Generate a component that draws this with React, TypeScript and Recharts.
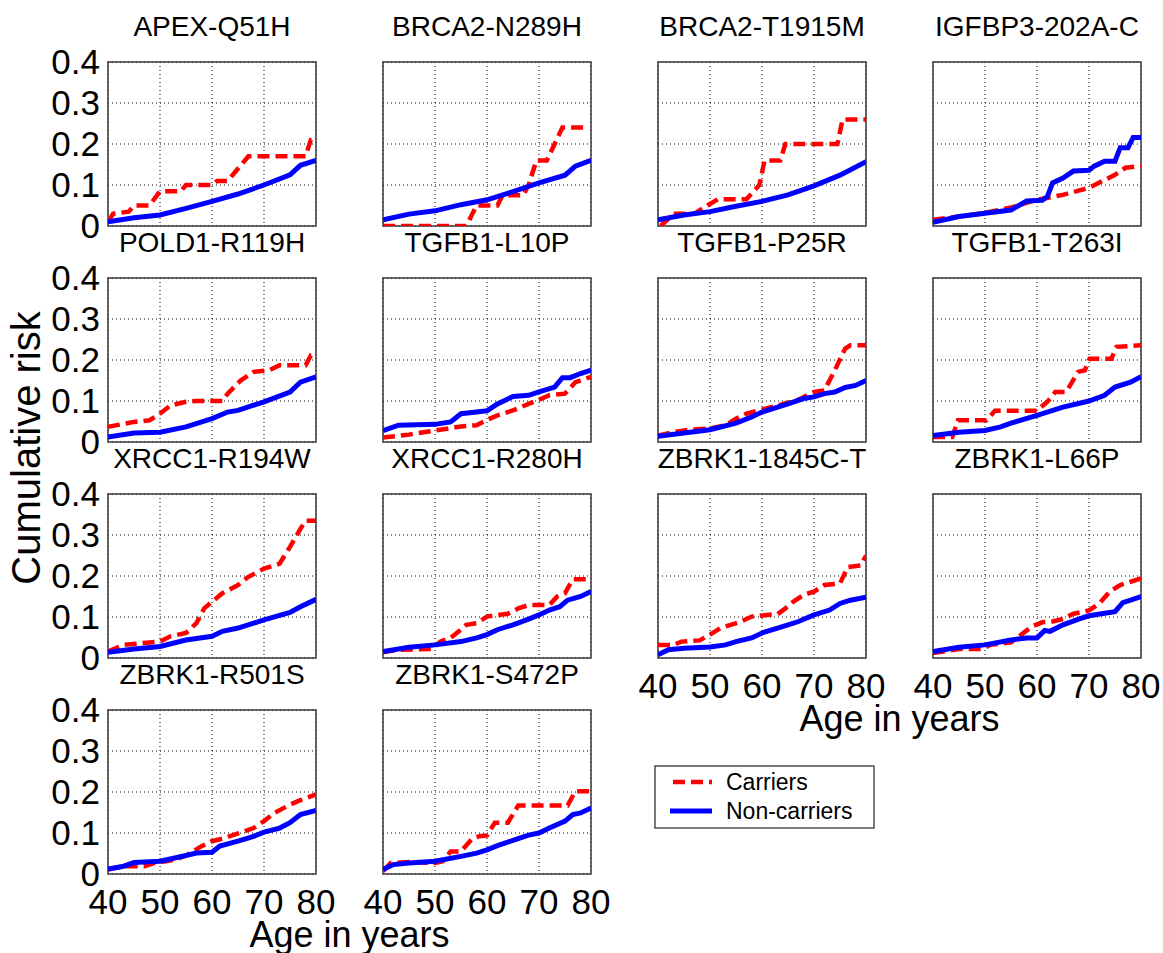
import { LineChart, Line, XAxis, YAxis, CartesianGrid, ReferenceArea } from 'recharts'

type Pt = [number, number]

const ageTicks = [40, 50, 60, 70, 80]
const riskTicks = [0, 0.1, 0.2, 0.3, 0.4]

const titles = [
  'APEX-Q51H', 'BRCA2-N289H', 'BRCA2-T1915M', 'IGFBP3-202A-C',
  'POLD1-R119H', 'TGFB1-L10P', 'TGFB1-P25R', 'TGFB1-T263I',
  'XRCC1-R194W', 'XRCC1-R280H', 'ZBRK1-1845C-T', 'ZBRK1-L66P',
  'ZBRK1-R501S', 'ZBRK1-S472P',
]

// [age, cumulative risk]
const apexCarriers: Pt[] = [[40, 0.01], [41, 0.03], [44, 0.035], [45, 0.05], [48, 0.05], [50, 0.085], [54, 0.085], [55, 0.1], [60, 0.1], [61, 0.11], [63, 0.11], [67, 0.17], [78, 0.17], [79, 0.21], [80, 0.21]]
const apexNon: Pt[] = [[40, 0.01], [45, 0.02], [50, 0.027], [55, 0.043], [60, 0.06], [65, 0.078], [70, 0.1], [75, 0.125], [77, 0.148], [80, 0.16]]

const brcaN289hCarriers: Pt[] = [[40, 0], [56, 0], [58, 0.05], [62, 0.05], [63, 0.075], [67, 0.075], [68, 0.1], [69.5, 0.16], [71.5, 0.16], [74.5, 0.24], [79.2, 0.24]]
const brcaN289hNon: Pt[] = [[40, 0.015], [45, 0.029], [50, 0.037], [55, 0.052], [60, 0.064], [65, 0.084], [70, 0.105], [75, 0.124], [77, 0.146], [80, 0.16]]

const brcaT1915mCarriers: Pt[] = [[40.5, 0], [43, 0.03], [47, 0.03], [49.5, 0.05], [51.5, 0.065], [57, 0.065], [59.5, 0.1], [60.5, 0.16], [63.5, 0.16], [64.5, 0.2], [74.5, 0.2], [75.5, 0.26], [80, 0.26]]
const brcaT1915mNon: Pt[] = [[40, 0.015], [45, 0.027], [50, 0.035], [55, 0.048], [60, 0.06], [65, 0.076], [70, 0.098], [75, 0.124], [80, 0.157]]

const igfbp3Carriers: Pt[] = [[40, 0.015], [45, 0.023], [50, 0.032], [55, 0.045], [60, 0.064], [65, 0.076], [70, 0.093], [75, 0.125], [77, 0.142], [80, 0.146]]
const igfbp3Non: Pt[] = [[40, 0.009], [45, 0.023], [50, 0.031], [55, 0.039], [58, 0.061], [61, 0.063], [62, 0.072], [63, 0.105], [65, 0.117], [67, 0.134], [70, 0.136], [71, 0.146], [73, 0.158], [75, 0.158], [76, 0.191], [77.5, 0.191], [78.5, 0.216], [80, 0.216]]

const pold1Carriers: Pt[] = [[40, 0.037], [45, 0.049], [48, 0.053], [50, 0.069], [52, 0.089], [55, 0.098], [57, 0.1], [62, 0.1], [63, 0.118], [65.5, 0.15], [68, 0.171], [71, 0.175], [73, 0.187], [78, 0.187], [79, 0.211], [80, 0.211]]
const pold1Non: Pt[] = [[40, 0.012], [45, 0.022], [50, 0.024], [55, 0.037], [60, 0.057], [63, 0.073], [65, 0.077], [70, 0.098], [75, 0.122], [77, 0.146], [80, 0.159]]

const tgfbL10pCarriers: Pt[] = [[40, 0.011], [45, 0.018], [50, 0.028], [55, 0.038], [58, 0.041], [60, 0.054], [62, 0.065], [65, 0.077], [68, 0.093], [70, 0.103], [72, 0.114], [75, 0.118], [77, 0.146], [80, 0.159]]
const tgfbL10pNon: Pt[] = [[40, 0.028], [43, 0.041], [50, 0.043], [53, 0.049], [55, 0.069], [58, 0.073], [60, 0.076], [62, 0.093], [65, 0.111], [68, 0.114], [70, 0.122], [73, 0.134], [74.5, 0.157], [76, 0.157], [78, 0.167], [80, 0.175]]

const tgfbP25rCarriers: Pt[] = [[40, 0.016], [43, 0.024], [46, 0.03], [50, 0.033], [53, 0.041], [55, 0.057], [57, 0.069], [60, 0.079], [63, 0.089], [67, 0.103], [70, 0.122], [72, 0.126], [74, 0.175], [76, 0.228], [77, 0.236], [80, 0.236]]
const tgfbP25rNon: Pt[] = [[40, 0.014], [45, 0.022], [50, 0.03], [55, 0.046], [58, 0.061], [60, 0.073], [65, 0.093], [68, 0.106], [70, 0.11], [72, 0.118], [74, 0.122], [76, 0.133], [78, 0.138], [80, 0.15]]

const tgfbT263iCarriers: Pt[] = [[40, 0.012], [43.7, 0.012], [44.8, 0.053], [50.3, 0.053], [51.9, 0.076], [60, 0.076], [62.2, 0.101], [63.5, 0.122], [65.6, 0.122], [67.9, 0.171], [69.2, 0.175], [70.1, 0.203], [74.3, 0.203], [75.3, 0.232], [80, 0.236]]
const tgfbT263iNon: Pt[] = [[40, 0.016], [45, 0.024], [50, 0.028], [53, 0.037], [55, 0.046], [60, 0.065], [65, 0.085], [70, 0.1], [73, 0.114], [75, 0.134], [78, 0.146], [80, 0.159]]

const xrccR194wCarriers: Pt[] = [[40, 0.016], [43, 0.032], [48, 0.038], [50, 0.04], [52, 0.053], [55, 0.061], [57, 0.085], [58.5, 0.121], [60, 0.137], [62, 0.158], [65, 0.178], [67, 0.198], [70, 0.218], [73, 0.23], [75, 0.271], [77, 0.315], [78, 0.335], [80, 0.335]]
const xrccR194wNon: Pt[] = [[40, 0.014], [45, 0.022], [50, 0.028], [55, 0.044], [60, 0.053], [62, 0.065], [65, 0.073], [70, 0.093], [75, 0.111], [77, 0.125], [80, 0.143]]

const xrccR280hCarriers: Pt[] = [[40, 0.014], [43, 0.02], [49.5, 0.022], [51, 0.04], [53, 0.049], [55, 0.069], [56, 0.081], [58, 0.085], [60, 0.101], [64, 0.108], [66, 0.121], [68, 0.129], [72, 0.129], [73.5, 0.15], [75, 0.158], [76.5, 0.192], [80, 0.192]]
const xrccR280hNon: Pt[] = [[40, 0.016], [45, 0.026], [50, 0.032], [55, 0.04], [58, 0.049], [60, 0.057], [62, 0.069], [65, 0.081], [68, 0.095], [70, 0.105], [72, 0.117], [74, 0.125], [75.5, 0.141], [78, 0.15], [80, 0.162]]

const zbrk1845Carriers: Pt[] = [[40, 0.032], [43, 0.032], [44.5, 0.04], [48, 0.043], [50, 0.057], [52, 0.073], [54, 0.081], [56, 0.089], [58, 0.101], [61, 0.105], [63, 0.107], [64.5, 0.121], [66, 0.137], [68, 0.154], [70, 0.162], [72, 0.178], [75, 0.182], [76.5, 0.222], [79, 0.226], [80, 0.25]]
const zbrk1845Non: Pt[] = [[40, 0.008], [42, 0.02], [45, 0.024], [50, 0.027], [53, 0.032], [55, 0.04], [58, 0.049], [60, 0.061], [63, 0.073], [65, 0.081], [67, 0.089], [70, 0.105], [73, 0.117], [75, 0.133], [77, 0.141], [80, 0.148]]

const zbrkL66pCarriers: Pt[] = [[40, 0.012], [45, 0.022], [49.5, 0.022], [51, 0.032], [55, 0.038], [57, 0.057], [59, 0.077], [61, 0.087], [63, 0.089], [65, 0.095], [67, 0.108], [70, 0.116], [72, 0.133], [74, 0.162], [76, 0.178], [78, 0.186], [80, 0.194]]
const zbrkL66pNon: Pt[] = [[40, 0.016], [45, 0.026], [50, 0.032], [55, 0.044], [58, 0.049], [60, 0.049], [61.5, 0.067], [62.5, 0.065], [65, 0.081], [68, 0.095], [70, 0.103], [73, 0.109], [75, 0.113], [76.5, 0.135], [78, 0.141], [80, 0.15]]

const zbrkR501sCarriers: Pt[] = [[40, 0.011], [43, 0.019], [47, 0.019], [49, 0.027], [53, 0.035], [55, 0.045], [58, 0.068], [60, 0.08], [62, 0.086], [65, 0.099], [68, 0.112], [70, 0.129], [72, 0.149], [75, 0.169], [77, 0.18], [80, 0.194]]
const zbrkR501sNon: Pt[] = [[40, 0.012], [43, 0.019], [45, 0.028], [50, 0.031], [55, 0.045], [57, 0.051], [60, 0.053], [61.5, 0.068], [65, 0.08], [68, 0.092], [70, 0.102], [73, 0.112], [75, 0.125], [77, 0.145], [80, 0.155]]

const zbrkS472pCarriers: Pt[] = [[40, 0.007], [41.5, 0.027], [45, 0.029], [50, 0.027], [51.5, 0.031], [53, 0.055], [55, 0.055], [57, 0.084], [58.5, 0.092], [60, 0.094], [61.5, 0.125], [64, 0.125], [66, 0.167], [75.5, 0.167], [77, 0.202], [80, 0.202]]
const zbrkS472pNon: Pt[] = [[40, 0.011], [42, 0.023], [45, 0.027], [50, 0.031], [55, 0.043], [58, 0.051], [60, 0.059], [62, 0.069], [65, 0.082], [68, 0.095], [70, 0.1], [72, 0.112], [75, 0.129], [76.5, 0.145], [78, 0.149], [80, 0.161]]

const carriersSets = [
  apexCarriers, brcaN289hCarriers, brcaT1915mCarriers, igfbp3Carriers,
  pold1Carriers, tgfbL10pCarriers, tgfbP25rCarriers, tgfbT263iCarriers,
  xrccR194wCarriers, xrccR280hCarriers, zbrk1845Carriers, zbrkL66pCarriers,
  zbrkR501sCarriers, zbrkS472pCarriers,
]
const nonCarriersSets = [
  apexNon, brcaN289hNon, brcaT1915mNon, igfbp3Non,
  pold1Non, tgfbL10pNon, tgfbP25rNon, tgfbT263iNon,
  xrccR194wNon, xrccR280hNon, zbrk1845Non, zbrkL66pNon,
  zbrkR501sNon, zbrkS472pNon,
]

const FONT = '"Liberation Sans", Arial, Helvetica, sans-serif'
const RED = '#ff0000'
const BLUE = '#0000ff'
const DASH = '12 6'

// plot-box geometry in page pixels
const colLeft = [108, 383, 658, 933]
const rowTop = [62, 278, 494, 710]
const PW = 208
const PH = 164
const YW = 100
const XH = 70
const TOP = 30
const RIGHT = 30

const toRows = (pts: Pt[]) => pts.map(([age, risk]) => ({ age, risk }))

// keeps the tick (and so the grid line) but draws no label
const NoLabel = () => <g />

function Panel({ idx }: { idx: number }) {
  const row = Math.floor(idx / 4)
  const col = idx % 4
  const showY = col === 0
  const showX = row === 3 || (row === 2 && col >= 2)
  const tickStyle = { fill: '#000', fontSize: 35, fontFamily: FONT }

  return (
    <div style={{ position: 'absolute', left: colLeft[col] - YW, top: rowTop[row] - TOP }}>
      <LineChart
        width={YW + PW + RIGHT}
        height={TOP + PH + XH}
        margin={{ top: TOP, right: RIGHT, bottom: 0, left: 0 }}
      >
        <CartesianGrid stroke="#000" strokeWidth={1} strokeDasharray="1 3" />
        <XAxis
          type="number"
          dataKey="age"
          domain={[40, 80]}
          ticks={ageTicks}
          allowDataOverflow
          height={XH}
          axisLine={false}
          tickLine={false}
          tickMargin={9}
          interval={0}
          tick={showX ? tickStyle : NoLabel}
        />
        <YAxis
          type="number"
          domain={[0, 0.4]}
          ticks={riskTicks}
          allowDataOverflow
          width={YW}
          axisLine={false}
          tickLine={false}
          tickMargin={2}
          interval={0}
          tick={showY ? tickStyle : NoLabel}
        />
        <Line
          data={toRows(carriersSets[idx])}
          dataKey="risk"
          type="linear"
          stroke={RED}
          strokeWidth={4.5}
          strokeDasharray={DASH}
          dot={false}
          activeDot={false}
          isAnimationActive={false}
        />
        <Line
          data={toRows(nonCarriersSets[idx])}
          dataKey="risk"
          type="linear"
          stroke={BLUE}
          strokeWidth={5}
          dot={false}
          activeDot={false}
          isAnimationActive={false}
        />
        <ReferenceArea
          x1={40}
          x2={80}
          y1={0}
          y2={0.4}
          fill="none"
          fillOpacity={0}
          stroke="#3a3a3a"
          strokeWidth={1.5}
        />
      </LineChart>
    </div>
  )
}

export default function App() {
  return (
    <div
      style={{
        position: 'absolute',
        left: 0,
        top: 0,
        width: 1163,
        height: 953,
        background: '#fff',
        overflow: 'hidden',
        fontFamily: FONT,
      }}
    >
      {titles.map((_, i) => (
        <Panel key={i} idx={i} />
      ))}
      <svg
        width={1163}
        height={953}
        style={{ position: 'absolute', left: 0, top: 0, pointerEvents: 'none' }}
        fontFamily={FONT}
      >
        {titles.map((t, i) => (
          <text
            key={t}
            x={colLeft[i % 4] + PW / 2}
            y={rowTop[Math.floor(i / 4)] - 26}
            textAnchor="middle"
            fontSize={28}
            fill="#000"
          >
            {t}
          </text>
        ))}
        <text
          transform="translate(40, 448) rotate(-90)"
          textAnchor="middle"
          fontSize={40}
          fill="#000"
        >
          Cumulative risk
        </text>
        <text x={(colLeft[2] + colLeft[3] + PW) / 2} y={rowTop[2] + PH + 73} textAnchor="middle" fontSize={36} fill="#000">
          Age in years
        </text>
        <text x={(colLeft[0] + colLeft[1] + PW) / 2} y={rowTop[3] + PH + 73} textAnchor="middle" fontSize={36} fill="#000">
          Age in years
        </text>
        {/* legend */}
        <rect x={655} y={766} width={219} height={62} fill="#fff" stroke="#222" strokeWidth={1.2} />
        <line x1={673} x2={712} y1={782} y2={782} stroke={RED} strokeWidth={4.5} strokeDasharray={DASH} />
        <text x={726} y={790} fontSize={23} fill="#000">Carriers</text>
        <line x1={670} x2={712} y1={811} y2={811} stroke={BLUE} strokeWidth={5} />
        <text x={726} y={819} fontSize={23} fill="#000">Non-carriers</text>
      </svg>
    </div>
  )
}
